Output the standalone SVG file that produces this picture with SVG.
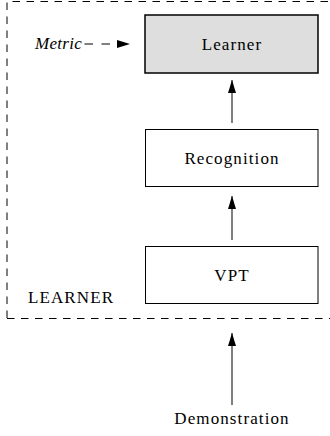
<svg xmlns="http://www.w3.org/2000/svg" width="330" height="436" viewBox="0 0 330 436">
<style>
text{font-family:"Liberation Serif","DejaVu Serif",serif;font-size:17px;letter-spacing:1.1px;fill:#000}
.box{fill:#fff;stroke:#000;stroke-width:1}
.line{stroke:#000;stroke-width:1;fill:none}
</style>
<defs>
<marker id="ah" viewBox="0 0 13 8" refX="13" refY="4" markerWidth="13" markerHeight="8" markerUnits="userSpaceOnUse" orient="auto">
<path d="M0,0 L13,4 L0,8 z" fill="#000"/>
</marker>
</defs>
<rect width="330" height="436" fill="#fff"/>
<g id="container">
<path class="line" d="M7,318 L7,1.5 L340,1.5 M7,318.5 L340,318.5" stroke-dasharray="7.5,6.5"/>
<text x="28" y="303">LEARNER</text>
</g>
<g id="learner">
<rect x="145" y="15" width="173" height="58" fill="#dedede" stroke="#000" stroke-width="1.5"/>
<text x="232" y="50" text-anchor="middle">Learner</text>
</g>
<g id="recognition">
<rect class="box" x="145.5" y="129.5" width="172.5" height="57"/>
<text x="232" y="164" text-anchor="middle">Recognition</text>
</g>
<g id="vpt">
<rect class="box" x="145.5" y="246.5" width="172.5" height="57"/>
<text x="232" y="281" text-anchor="middle">VPT</text>
</g>
<g id="metric">
<text x="35" y="49" font-style="italic" style="letter-spacing:0.3px">Metric</text>
</g>
<g id="demonstration">
<text x="232" y="424" text-anchor="middle">Demonstration</text>
</g>
<g id="connectors">
<line class="line" x1="232" y1="123" x2="232" y2="80" marker-end="url(#ah)"/>
<line class="line" x1="232" y1="240" x2="232" y2="196" marker-end="url(#ah)"/>
<line class="line" x1="232" y1="405" x2="232" y2="333" marker-end="url(#ah)"/>
<line class="line" x1="84.5" y1="44" x2="130" y2="44" stroke-dasharray="8.5,8.5" marker-end="url(#ah)"/>
</g>
</svg>
